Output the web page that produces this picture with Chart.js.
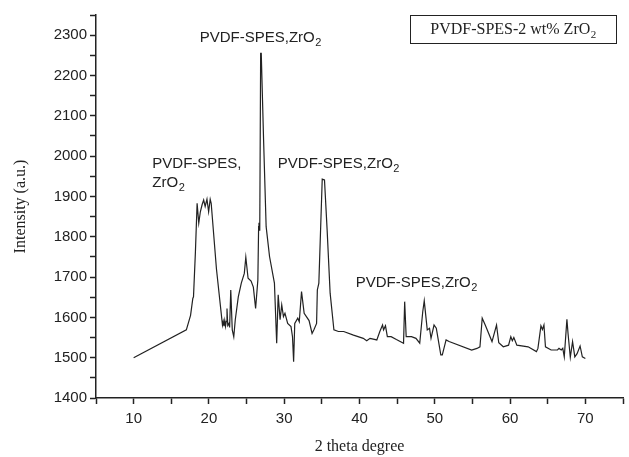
<!DOCTYPE html>
<html>
<head>
<meta charset="utf-8">
<script src="https://cdn.jsdelivr.net/npm/chart.js@4.4.1/dist/chart.umd.min.js"></script>
<style>
  html, body { margin: 0; padding: 0; background: #fff; }
  #wrap { width: 629px; height: 457px; position: relative; }
</style>
</head>
<body>
<div id="wrap"><canvas id="cv"></canvas></div>
<script>
// 2 theta werte (grad)
const twoTheta = [10, 17.0, 17.56, 17.86, 17.95, 18.2, 18.43, 18.65, 18.86, 19.1, 19.3, 19.5, 19.74, 19.96, 20.17, 20.3,
  21.0, 21.8, 21.9, 22.0, 22.1, 22.2, 22.3, 22.4, 22.5, 22.66, 22.75, 22.9, 23.1, 23.3, 23.5, 23.9, 24.3, 24.7, 24.9,
  25.2, 25.6, 25.9, 26.2, 26.5, 26.6, 26.65, 26.75, 26.87, 26.95, 27.26, 27.6, 28.05, 28.7, 29.0, 29.2, 29.45, 29.67,
  29.9, 30.1, 30.46, 30.9, 31.1, 31.25, 31.4, 31.8, 32.0, 32.3, 32.65, 33.3, 33.7, 33.96, 34.3, 34.4, 34.6, 35.05,
  35.35, 35.7, 36.1, 36.6, 37.2, 37.9, 39.2, 40.5, 40.96, 41.4, 42.3, 42.7, 43.06, 43.2, 43.45, 43.7, 44.2, 44.9,
  45.85, 46.0, 46.2, 46.9, 47.5, 48.0, 48.4, 48.6, 49.0, 49.3, 49.5, 49.9, 50.2, 50.8, 51.0, 51.5, 51.9, 54.9, 55.6,
  56.0, 56.3, 56.7, 57.6, 58.2, 58.5, 59.1, 59.8, 60.1, 60.3, 60.5, 60.9, 62.4, 63.5, 63.7, 64.1, 64.3, 64.5, 64.7,
  65.45, 66.3, 66.5, 66.8, 67.0, 67.2, 67.55, 67.7, 68.0, 68.3, 68.6, 68.9, 69.3, 69.6, 70.0];

// intensitaet (a.u.)
const intensity = [1500, 1569, 1605, 1647, 1651, 1760, 1883, 1834, 1862, 1880, 1891, 1875, 1893, 1862, 1893, 1883,
  1720, 1581, 1590, 1578, 1592, 1578, 1590, 1622, 1580, 1585, 1575, 1668, 1569, 1552, 1594, 1651, 1685, 1709, 1749,
  1697, 1690, 1675, 1622, 1693, 1825, 1835, 1815, 2255, 2255, 2040, 1825, 1751, 1685, 1536, 1656, 1594, 1631,
  1602, 1610, 1585, 1577, 1552, 1490, 1585, 1598, 1589, 1664, 1610, 1592, 1560, 1570, 1585, 1668, 1685, 1943,
  1941, 1817, 1660, 1569, 1565, 1565, 1556, 1548, 1542, 1548, 1544, 1565, 1581, 1569, 1579, 1552, 1552, 1545,
  1536, 1639, 1552, 1552, 1548, 1536, 1614, 1641, 1569, 1573, 1548, 1581, 1573, 1507, 1507, 1544, 1540, 1519, 1523,
  1527, 1598, 1581, 1540, 1581, 1537, 1527, 1531, 1552, 1542, 1550, 1531, 1527, 1515, 1523, 1579, 1570, 1581, 1527,
  1519, 1519, 1523, 1519, 1523, 1502, 1595, 1560, 1501, 1540, 1502, 1510, 1529, 1502, 1498];

// achsen
const xTicksMajor = [10, 20, 30, 40, 50, 60, 70];
const yTicksMajor = [1400, 1500, 1600, 1700, 1800, 1900, 2000, 2100, 2200, 2300];

// peak beschriftungen (text, subscript, x, y in daten)
const peakLabels = [
  ["PVDF-SPES,ZrO", "2", 18.78, 2283],
  ["PVDF-SPES,", "", 12.48, 1971],
  ["ZrO", "2", 12.48, 1924],
  ["PVDF-SPES,ZrO", "2", 29.15, 1971],
  ["PVDF-SPES,ZrO", "2", 39.5, 1675]
];
const legendText = ["PVDF-SPES-2 wt% ZrO", "2"];

const ink = "#222";

//text mit tiefgestellter zahl zeichnen
function subText(ctx, txt, sub, x, y, font, subFont, align) {
  ctx.font = font;
  let w1 = ctx.measureText(txt).width;
  ctx.font = subFont;
  let w2 = sub ? ctx.measureText(sub).width : 0;
  let start = align === "center" ? x - (w1 + w2) / 2 : x;
  ctx.textAlign = "left";
  ctx.textBaseline = "alphabetic";
  ctx.font = font;
  ctx.fillText(txt, start, y);
  if (sub) {
    ctx.font = subFont;
    ctx.fillText(sub, start + w1 + 0.5, y + 4);
  }
}

const annot = {
  id: "annot",
  afterDatasetsDraw(chart) {
    const ctx = chart.ctx;
    const xs = chart.scales.x, ys = chart.scales.y;
    ctx.save();
    ctx.fillStyle = ink;
    for (let l of peakLabels) {
      subText(ctx, l[0], l[1], xs.getPixelForValue(l[2]), ys.getPixelForValue(l[3]),
        "15px 'Liberation Sans', Arial, sans-serif", "11px 'Liberation Sans', Arial, sans-serif", "left");
    }
    //legende box
    const bx = 410, by = 15, bw = 206, bh = 28;
    ctx.strokeStyle = ink;
    ctx.lineWidth = 1;
    ctx.strokeRect(bx + 0.5, by + 0.5, bw, bh);
    subText(ctx, legendText[0], legendText[1], bx + bw / 2, by + 19,
      "16px 'Liberation Serif', 'Times New Roman', serif", "11px 'Liberation Serif', 'Times New Roman', serif", "center");
    ctx.restore();
  }
};

const cfg = {
  type: "line",
  data: {
    datasets: [{
      data: twoTheta.map((t, i) => ({ x: t, y: intensity[i] })),
      borderColor: ink,
      borderWidth: 1.2,
      pointRadius: 0,
      tension: 0,
      fill: false
    }]
  },
  options: {
    responsive: true,
    maintainAspectRatio: false,
    animation: false,
    layout: { padding: { top: 15, right: 0, left: 0, bottom: 0 } },
    plugins: { legend: { display: false }, tooltip: { enabled: false } },
    scales: {
      x: {
        type: "linear",
        min: 5, max: 75,
        afterBuildTicks: (s) => { s.ticks = []; for (let v = 5; v <= 75; v += 5) s.ticks.push({ value: v }); },
        afterFit: (s) => { s.height = 59; },
        ticks: {
          autoSkip: false, maxRotation: 0, padding: 6, color: ink,
          font: { family: "'Liberation Sans', Arial, sans-serif", size: 15 },
          callback: (v) => xTicksMajor.includes(v) ? String(v) : ""
        },
        grid: { drawOnChartArea: false, drawTicks: true, tickLength: 6, tickColor: ink, tickWidth: 1.5 },
        border: { color: ink, width: 1.5 },
        title: {
          display: true, text: "2 theta degree", color: ink,
          font: { family: "'Liberation Serif', 'Times New Roman', serif", size: 16 },
          padding: { top: 0, bottom: 1 }
        }
      },
      y: {
        min: 1400, max: 2350,
        afterBuildTicks: (s) => { s.ticks = []; for (let v = 1400; v <= 2350; v += 50) s.ticks.push({ value: v }); },
        afterFit: (s) => { s.width = 96; },
        ticks: {
          autoSkip: false, padding: 3, color: ink,
          font: { family: "'Liberation Sans', Arial, sans-serif", size: 15 },
          callback: (v) => yTicksMajor.includes(v) ? String(v) : ""
        },
        grid: { drawOnChartArea: false, drawTicks: true, tickLength: 6, tickColor: ink, tickWidth: 1.5 },
        border: { color: ink, width: 1.5 },
        title: {
          display: true, text: "Intensity (a.u.)", color: ink,
          font: { family: "'Liberation Serif', 'Times New Roman', serif", size: 16 },
          padding: { top: 11, bottom: 0 }
        }
      }
    }
  },
  plugins: [annot]
};

new Chart(document.getElementById("cv").getContext("2d"), cfg);
</script>
</body>
</html>
